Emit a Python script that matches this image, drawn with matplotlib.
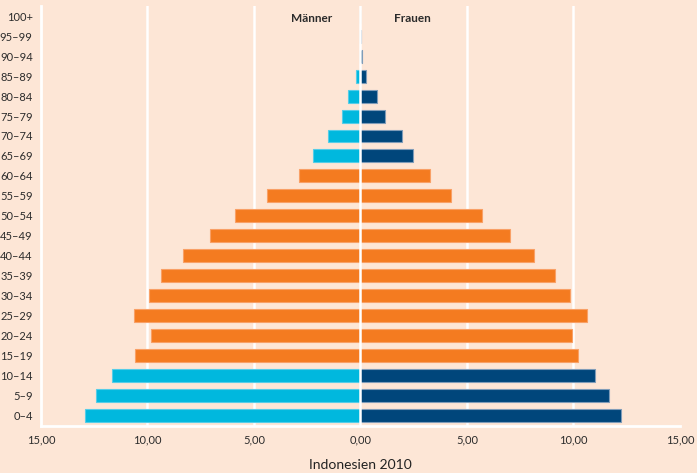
import matplotlib.pyplot as plt
import numpy as np

plt.rcParams['font.family'] = ['Lato', 'DejaVu Sans']

# age groups from bottom to top
groups = ["0–4", "5–9", "10–14", "15–19", "20–24", "25–29", "30–34", "35–39",
          "40–44", "45–49", "50–54", "55–59", "60–64", "65–69", "70–74",
          "75–79", "80–84", "85–89", "90–94", "95–99", "100+"]

# share of population in percent
maenner = [12.92, 12.41, 11.67, 10.58, 9.83, 10.61, 9.95, 9.36, 8.35, 7.05,
           5.88, 4.37, 2.91, 2.22, 1.54, 0.85, 0.58, 0.19, 0.03, 0.01, 0.0]
frauen = [12.21, 11.69, 11.00, 10.22, 9.95, 10.64, 9.84, 9.14, 8.16, 7.00,
          5.70, 4.23, 3.24, 2.46, 1.94, 1.13, 0.78, 0.28, 0.08, 0.02, 0.0]

xticks = [-15, -10, -5, 0, 5, 10, 15]
xticklabels = ["15,00", "10,00", "5,00", "0,00", "5,00", "10,00", "15,00"]

bg = "#FDE6D6"
orange = "#F47B20"
hellblau = "#00B8DE"
dunkelblau = "#00467B"

# working age 15-64 in orange, the rest in blue
working = [3 <= i <= 12 for i in range(len(groups))]
col_m = [orange if w else hellblau for w in working]
col_f = [orange if w else dunkelblau for w in working]
edge_m = ["#F9A066" if w else "#55CDE8" for w in working]
edge_f = ["#F9A066" if w else "#7F9CB8" for w in working]

fig = plt.figure(figsize=(6.97, 4.73), dpi=100, facecolor=bg)
ax = fig.add_axes([0.0588, 0.0994, 0.9168, 0.8879], facecolor=bg)

y = np.arange(len(groups))
ax.barh(y, -np.array(maenner), height=0.65, color=col_m, edgecolor=edge_m,
        linewidth=0.8, zorder=2)
ax.barh(y, frauen, height=0.65, color=col_f, edgecolor=edge_f,
        linewidth=0.8, zorder=2)

ax.set_xlim(-15, 15)
ax.set_ylim(-0.5, 20.5)

ax.set_xticks(xticks)
ax.set_xticklabels(xticklabels)
ax.set_yticks(y)
ax.set_yticklabels(groups)
ax.tick_params(axis="both", length=0, labelsize=8, colors="#2b2b2b")
ax.tick_params(axis="x", pad=6)
ax.tick_params(axis="y", pad=6)

for x in xticks:
    if x not in (-15, 15):
        ax.axvline(x, color="white", lw=1.8, zorder=1 if x != 0 else 3)

for s in ["top", "right"]:
    ax.spines[s].set_visible(False)
for s in ["left", "bottom"]:
    ax.spines[s].set_color("white")
    ax.spines[s].set_linewidth(2)

ax.text(-2.3, 19.9, "Männer", ha="center", va="center", fontsize=8.5,
        fontweight="bold", color="#2b2b2b")
ax.text(2.45, 19.9, "Frauen", ha="center", va="center", fontsize=8.5,
        fontweight="bold", color="#2b2b2b")

ax.set_xlabel("Indonesien 2010", fontsize=10, color="#222222", labelpad=10)

fig.savefig("out.png", dpi=100, facecolor=bg)
